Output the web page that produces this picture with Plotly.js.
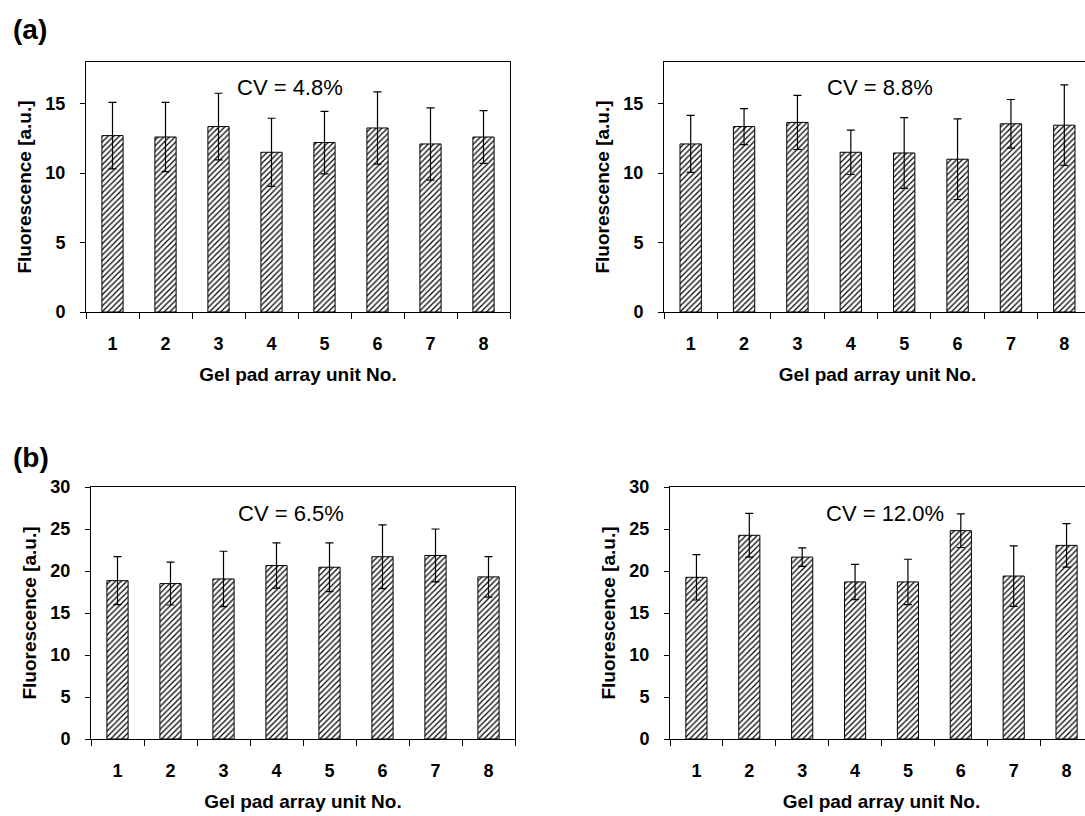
<!DOCTYPE html>
<html>
<head>
<meta charset="utf-8">
<script src="https://cdn.plot.ly/plotly-3.0.1.min.js"></script>
<style>
html, body { margin: 0; padding: 0; overflow: hidden; background: #fff; }
#chart { width: 1100px; height: 816px; }
</style>
</head>
<body>
<div id="chart"></div>
<script>
// ---- data ----
const categories = ['1', '2', '3', '4', '5', '6', '7', '8'];

const aLeftMean  = [12.7, 12.6, 13.35, 11.5, 12.2, 13.25, 12.1, 12.6];
const aLeftErr   = [2.4, 2.5, 2.4, 2.45, 2.25, 2.6, 2.6, 1.9];
const aRightMean = [12.1, 13.35, 13.65, 11.5, 11.45, 11.0, 13.55, 13.45];
const aRightErr  = [2.05, 1.3, 1.95, 1.6, 2.55, 2.9, 1.75, 2.9];
const bLeftMean  = [18.85, 18.5, 19.05, 20.65, 20.45, 21.7, 21.85, 19.3];
const bLeftErr   = [2.85, 2.55, 3.3, 2.7, 2.9, 3.8, 3.15, 2.4];
const bRightMean = [19.25, 24.25, 21.65, 18.7, 18.7, 24.8, 19.4, 23.05];
const bRightErr  = [2.7, 2.6, 1.1, 2.1, 2.7, 2.0, 3.6, 2.6];

const cvLabels = ['CV = 4.8%', 'CV = 8.8%', 'CV = 6.5%', 'CV = 12.0%'];
const panelLabels = ['(a)', '(b)'];
const xTitle = 'Gel pad array unit No.';
const yTitle = 'Fluorescence [a.u.]';

// ---- build ----
const W = 1100, H = 816;
const FONT = 'Liberation Sans, Arial, sans-serif';

function barTrace(means, errs, xa, ya) {
  return {
    type: 'bar', x: categories, y: means, xaxis: xa, yaxis: ya,
    marker: {
      color: 'white',
      line: { color: 'black', width: 1 },
      pattern: { shape: '/', size: 4, solidity: 0.3, fgcolor: 'black', bgcolor: 'white', fillmode: 'replace' }
    },
    error_y: { type: 'data', array: errs, visible: true, color: 'black', thickness: 1.2, width: 4 },
    showlegend: false, hoverinfo: 'skip'
  };
}

const data = [
  barTrace(aLeftMean, aLeftErr, 'x', 'y'),
  barTrace(aRightMean, aRightErr, 'x2', 'y2'),
  barTrace(bLeftMean, bLeftErr, 'x3', 'y3'),
  barTrace(bRightMean, bRightErr, 'x4', 'y4')
];

function px2x(a, b) { return [a / W, b / W]; }
function px2y(top, bottom) { return [(H - bottom) / H, (H - top) / H]; }

const tickFont = { family: FONT, size: 18, color: 'black', weight: 700 };
const titleFont = { family: FONT, size: 19, color: 'black', weight: 700 };

function xAxis(domain, anchor) {
  return {
    domain: domain, anchor: anchor, type: 'category',
    showline: true, linecolor: 'black', linewidth: 1, mirror: true,
    ticks: 'outside', tickson: 'boundaries', ticklen: 6, tickcolor: 'black', tickwidth: 1,
    ticklabelstandoff: 15, tickfont: tickFont,
    showgrid: false, zeroline: false, automargin: true,
    title: { text: xTitle, font: titleFont, standoff: 15 }
  };
}
function yAxis(domain, anchor, range, dtick) {
  return {
    domain: domain, anchor: anchor, range: range, dtick: dtick, tick0: 0,
    showline: true, linecolor: 'black', linewidth: 1, mirror: true,
    ticks: 'outside', ticklen: 5, tickcolor: 'black', tickwidth: 1,
    ticklabelstandoff: 11, tickfont: tickFont,
    showgrid: false, zeroline: false, automargin: true,
    title: { text: yTitle, font: titleFont, standoff: 8 }
  };
}

function cvNote(i, xa, ya, xpos) {
  return { text: cvLabels[i], xref: xa + ' domain', yref: ya + ' domain', x: xpos, y: 0.896,
           xanchor: 'center', yanchor: 'middle', showarrow: false,
           font: { family: FONT, size: 22, color: 'black' } };
}

const layout = {
  width: W, height: H,
  margin: { l: 0, r: 0, t: 0, b: 0, autoexpand: false },
  paper_bgcolor: 'white', plot_bgcolor: 'white',
  bargap: 0.6,
  xaxis:  xAxis(px2x(86, 510), 'y'),
  yaxis:  yAxis(px2y(62, 312), 'x', [0, 18], 5),
  xaxis2: xAxis(px2x(664, 1091), 'y2'),
  yaxis2: yAxis(px2y(62, 312), 'x2', [0, 18], 5),
  xaxis3: xAxis(px2x(91, 515), 'y3'),
  yaxis3: yAxis(px2y(487, 739), 'x3', [0, 30], 5),
  xaxis4: xAxis(px2x(670, 1093), 'y4'),
  yaxis4: yAxis(px2y(487, 739), 'x4', [0, 30], 5),
  annotations: [
    cvNote(0, 'x', 'y', 0.48),
    cvNote(1, 'x2', 'y2', 0.505),
    cvNote(2, 'x3', 'y3', 0.472),
    cvNote(3, 'x4', 'y4', 0.509),
    { text: panelLabels[0], xref: 'paper', yref: 'paper', x: 30 / W, y: (H - 30) / H,
      xanchor: 'center', yanchor: 'middle', showarrow: false,
      font: { family: FONT, size: 28, color: 'black', weight: 700 } },
    { text: panelLabels[1], xref: 'paper', yref: 'paper', x: 31 / W, y: (H - 457) / H,
      xanchor: 'center', yanchor: 'middle', showarrow: false,
      font: { family: FONT, size: 28, color: 'black', weight: 700 } }
  ]
};

Plotly.newPlot('chart', data, layout, { displayModeBar: false, staticPlot: true });
</script>
</body>
</html>
